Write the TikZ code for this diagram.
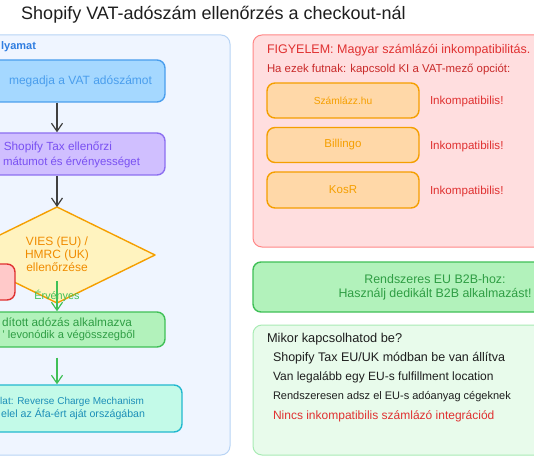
\documentclass[tikz,border=0pt]{standalone}
\usepackage{fontspec}
\setmainfont{Liberation Sans}
\usetikzlibrary{arrows.meta}
\definecolor{panelLf}{HTML}{EFF5FF}
\definecolor{panelLd}{HTML}{B8D4F5}
\definecolor{blueF}{HTML}{A5D8FF}
\definecolor{blueD}{HTML}{4A9EED}
\definecolor{blueT}{HTML}{2F7DE0}
\definecolor{purF}{HTML}{D0BFFF}
\definecolor{purD}{HTML}{8C6FF0}
\definecolor{purT}{HTML}{7950F2}
\definecolor{yelF}{HTML}{FFF3BF}
\definecolor{oraD}{HTML}{F59F00}
\definecolor{oraT}{HTML}{F08C00}
\definecolor{oraF}{HTML}{FFD8A8}
\definecolor{grnF}{HTML}{B2F2BB}
\definecolor{grnD}{HTML}{40C057}
\definecolor{grnT}{HTML}{2F9E44}
\definecolor{cyaF}{HTML}{C3FAE8}
\definecolor{cyaD}{HTML}{22B8CF}
\definecolor{cyaT}{HTML}{1C8FB8}
\definecolor{redF}{HTML}{FFC9C9}
\definecolor{redD}{HTML}{E03131}
\definecolor{redPf}{HTML}{FFDEDF}
\definecolor{redPd}{HTML}{FF8787}
\definecolor{redT}{HTML}{E03131}
\definecolor{redT2}{HTML}{C92A2A}
\definecolor{grnPf}{HTML}{E8FBEB}
\definecolor{grnPd}{HTML}{A8EBB4}
\definecolor{inkT}{HTML}{1E1E1E}
\newcommand{\fsz}[1]{\fontsize{#1}{#1}\selectfont}
\tikzset{
  panel/.style={rounded corners=9pt, line width=1pt},
  boxshape/.style={draw, rounded corners=8pt, line width=1.4pt, inner sep=0pt},
  txt/.style={inner sep=0pt, outer sep=0pt},
  flowarrow/.style={line width=1.2pt, -{Straight Barb[length=8pt,width=11pt,line width=1.2pt]}},
}
\begin{document}
\begin{tikzpicture}[x=1pt,y=-1pt]
\useasboundingbox (0,0) rectangle (534,462);
\fill[white] (0,0) rectangle (534,462);
\clip (0,0) rectangle (534,462);

% title
\node[txt, font=\fsz{18}, text=inkT] (title) at (213.5,15) {Shopify VAT-adószám ellenőrzés a checkout-nál};

% left panel
\draw[panel, fill=panelLf, draw=panelLd] (-60,35) rectangle (230,455);
\node[txt, anchor=east, font=\bfseries\fsz{11}, text=blueT] (lbl) at (36,47) {lyamat};

% box 1
\node[boxshape, fill=blueF, draw=blueD, minimum width=216pt, minimum height=42pt] (b1) at (57,81) {};
\node[txt, anchor=east, font=\fsz{12}, text=blueD] (t1) at (152,81) {megadja a VAT adószámot};

% box 2
\node[boxshape, fill=purF, draw=purD, minimum width=216pt, minimum height=42pt] (b2) at (57,154) {};
\node[txt, anchor=east, font=\fsz{11.8}, text=purT] (t2a) at (112,147) {Shopify Tax ellenőrzi};
\node[txt, anchor=east, font=\fsz{11.4}, text=purT] (t2b) at (140,162) {mátumot és érvényességet};

% diamond
\coordinate (dtop) at (57,207);
\coordinate (dbot) at (57,303);
\coordinate (dright) at (155,255);
\coordinate (dleft) at (-41,255);
\draw[fill=yelF, draw=oraD, line width=1.4pt, line join=round] (dtop) -- (dright) -- (dbot) -- (dleft) -- cycle;
\node[txt, font=\fsz{12}, text=oraT, align=center] (dtxt) at (57,254) {VIES (EU) /\\[1pt]HMRC (UK)\\[1pt]ellenőrzése};

% red small box
\node[boxshape, fill=redF, draw=redD, minimum width=50pt, minimum height=36pt] (rb) at (-10,282) {};

% box 3
\node[boxshape, fill=grnF, draw=grnD, minimum width=216pt, minimum height=35pt] (b3) at (57,329.5) {};
\node[txt, anchor=east, font=\fsz{11.8}, text=grnT] (t3a) at (132,322) {dított adózás alkalmazva};
\node[txt, anchor=east, font=\fsz{11.1}, text=grnT] (t3b) at (135,336) {' levonódik a végösszegből};

% box 4
\node[boxshape, fill=cyaF, draw=cyaD, minimum width=250pt, minimum height=47pt] (b4) at (57,408.5) {};
\node[txt, anchor=east, font=\fsz{10}, text=cyaT] (t4a) at (144,402) {lat: Reverse Charge Mechanism};
\node[txt, anchor=east, font=\fsz{10.6}, text=cyaT] (t4b) at (145,414) {elel az Áfa-ért aját országában};

% arrows
\draw[flowarrow, draw=inkT!85] (b1.south) -- (b2.north);
\draw[flowarrow, draw=inkT!85] (b2.south) -- (dtop);
\coordinate (gstart) at (57,281);
\draw[flowarrow, draw=grnD] (gstart) -- node[txt, font=\fsz{10.8}, text=grnD, pos=0.48] (lblok) {Érvényes} (b3.north);
\draw[flowarrow, draw=grnD, shorten <=10pt] (b3.south) -- (b4.north);

% right red panel
\draw[panel, fill=redPf, draw=redPd] (253,35) rectangle (570,247);
\node[txt, anchor=west, font=\fsz{12.5}, text=redT] (warn) at (267,50) {FIGYELEM: Magyar számlázói inkompatibilitás.};
\node[txt, anchor=west, font=\fsz{11.4}, text=redT2] (warn2) at (267,69) {Ha ezek futnak: kapcsold KI a VAT-mező opciót:};

\node[boxshape, fill=oraF, draw=oraD, minimum width=152pt, minimum height=35pt, font=\fsz{10.2}, text=oraD] (o1) at (343,100.5) {Számlázz.hu};
\node[boxshape, fill=oraF, draw=oraD, minimum width=152pt, minimum height=35pt, font=\fsz{11.5}, text=oraD] (o2) at (343,145) {Billingo};
\node[boxshape, fill=oraF, draw=oraD, minimum width=152pt, minimum height=36pt, font=\fsz{11.5}, text=oraD] (o3) at (343,190) {KosR};
\node[txt, anchor=west, font=\fsz{11.6}, text=redT] (i1) at (430,102) {Inkompatibilis!};
\node[txt, anchor=west, font=\fsz{11.6}, text=redT] (i2) at (430,147) {Inkompatibilis!};
\node[txt, anchor=west, font=\fsz{11.6}, text=redT] (i3) at (430,192) {Inkompatibilis!};

% green box
\draw[line width=1.4pt, rounded corners=8pt, fill=grnF, draw=grnD] (253,262) rectangle (570,312);
\node[txt, font=\fsz{12.4}, text=grnT, align=center] (b2b) at (435,287) {Rendszeres EU B2B-hoz:\\[2pt]Használj dedikált B2B alkalmazást!};

% green panel
\draw[panel, fill=grnPf, draw=grnPd] (253,325) rectangle (570,455);
\node[txt, anchor=west, font=\fsz{12.8}, text=inkT] (mk) at (267,339) {Mikor kapcsolhatod be?};
\node[txt, anchor=west, font=\fsz{12.5}, text=inkT] (c1) at (273,358) {Shopify Tax EU/UK módban be van állítva};
\node[txt, anchor=west, font=\fsz{12}, text=inkT] (c2) at (273,377) {Van legalább egy EU-s fulfillment location};
\node[txt, anchor=west, font=\fsz{11}, text=inkT] (c3) at (273,397) {Rendszeresen adsz el EU-s adóanyag cégeknek};
\node[txt, anchor=west, font=\fsz{12}, text=redT] (c4) at (273,416) {Nincs inkompatibilis számlázó integrációd};
\end{tikzpicture}
\end{document}
